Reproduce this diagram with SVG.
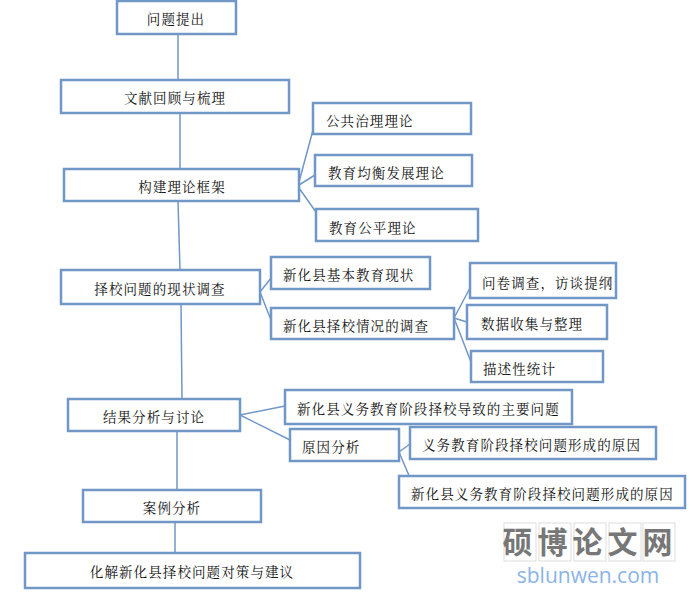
<svg xmlns="http://www.w3.org/2000/svg" width="692" height="594" viewBox="0 0 692 594">
<style>
.b rect{fill:#fff;stroke:#7197c6;stroke-width:2.5}
.b text{font-family:"Noto Serif CJK SC","Noto Sans CJK SC",serif;font-size:13.5px;letter-spacing:1.1px;fill:#111;dominant-baseline:central}
.c{stroke:#7197c6;stroke-width:1.5;fill:none}
</style>
<rect width="692" height="594" fill="#fff"/>
<g id="connectors" class="c">
<path d="M178 34V80M180 113V169M178 201L180 270M181 304L182 399M177 431V490M175 522V553"/>
<path d="M299 182L313 130M299 185L315 175M299 188L316 212"/>
<path d="M260 292L271 278M260 292L271 320"/>
<path d="M454 318L470 288M454 318L467 322M454 318L471 362"/>
<path d="M240 415L285 406M240 415L290 440"/>
<path d="M399 452L410 444M399 452L410 478"/>
</g>
<g class="b">
<g id="n1"><rect x="117" y="1" width="119" height="33"/><text x="176" y="18" text-anchor="middle">问题提出</text></g>
<g id="n2"><rect x="61" y="80" width="228" height="33"/><text x="175" y="97" text-anchor="middle">文献回顾与梳理</text></g>
<g id="n3"><rect x="64" y="169" width="235" height="32"/><text x="182" y="186" text-anchor="middle">构建理论框架</text></g>
<g id="n4"><rect x="313" y="103" width="158" height="31"/><text x="326" y="120">公共治理理论</text></g>
<g id="n5"><rect x="315" y="155" width="157" height="31"/><text x="328" y="172">教育均衡发展理论</text></g>
<g id="n6"><rect x="316" y="209" width="162" height="32"/><text x="329" y="227">教育公平理论</text></g>
<g id="n7"><rect x="61" y="270" width="199" height="34"/><text x="160" y="288" text-anchor="middle">择校问题的现状调查</text></g>
<g id="n8"><rect x="271" y="257" width="159" height="32"/><text x="283" y="274">新化县基本教育现状</text></g>
<g id="n9"><rect x="271" y="308" width="183" height="31"/><text x="283" y="325">新化县择校情况的调查</text></g>
<g id="n10"><rect x="470" y="263" width="146" height="35"/><text x="482" y="282">问卷调查，访谈提纲</text></g>
<g id="n11"><rect x="467" y="305" width="140" height="34"/><text x="481" y="323">数据收集与整理</text></g>
<g id="n12"><rect x="471" y="351" width="132" height="31"/><text x="483" y="368">描述性统计</text></g>
<g id="n13"><rect x="68" y="399" width="172" height="32"/><text x="154" y="416" text-anchor="middle">结果分析与讨论</text></g>
<g id="n14"><rect x="285" y="390" width="287" height="34"/><text x="297" y="408">新化县义务教育阶段择校导致的主要问题</text></g>
<g id="n15"><rect x="290" y="429" width="109" height="32"/><text x="302" y="446">原因分析</text></g>
<g id="n16"><rect x="410" y="427" width="246" height="32"/><text x="422" y="444">义务教育阶段择校问题形成的原因</text></g>
<g id="n17"><rect x="399" y="476" width="286" height="32"/><text x="411" y="493">新化县义务教育阶段择校问题形成的原因</text></g>
<g id="n18"><rect x="83" y="490" width="178" height="32"/><text x="172" y="507" text-anchor="middle">案例分析</text></g>
<g id="n19"><rect x="25" y="553" width="335" height="35"/><text x="192" y="571" text-anchor="middle">化解新化县择校问题对策与建议</text></g>
</g>
<g id="watermark">
<g fill="none" stroke="#ddd" stroke-width="1">
<rect x="504" y="523" width="32" height="38"/><rect x="539" y="523" width="32" height="38"/><rect x="574" y="523" width="32" height="38"/><rect x="609" y="523" width="32" height="38"/><rect x="643" y="523" width="32" height="38"/>
</g>
<text x="590" y="553" text-anchor="middle" font-family="Noto Sans CJK SC,sans-serif" font-size="30" font-weight="bold" fill="#777" letter-spacing="5">硕博论文网</text>
<text x="588" y="583" text-anchor="middle" font-family="Open Sans,sans-serif" font-size="21" fill="#8ab4e6">sblunwen.com</text>
</g>
</svg>
